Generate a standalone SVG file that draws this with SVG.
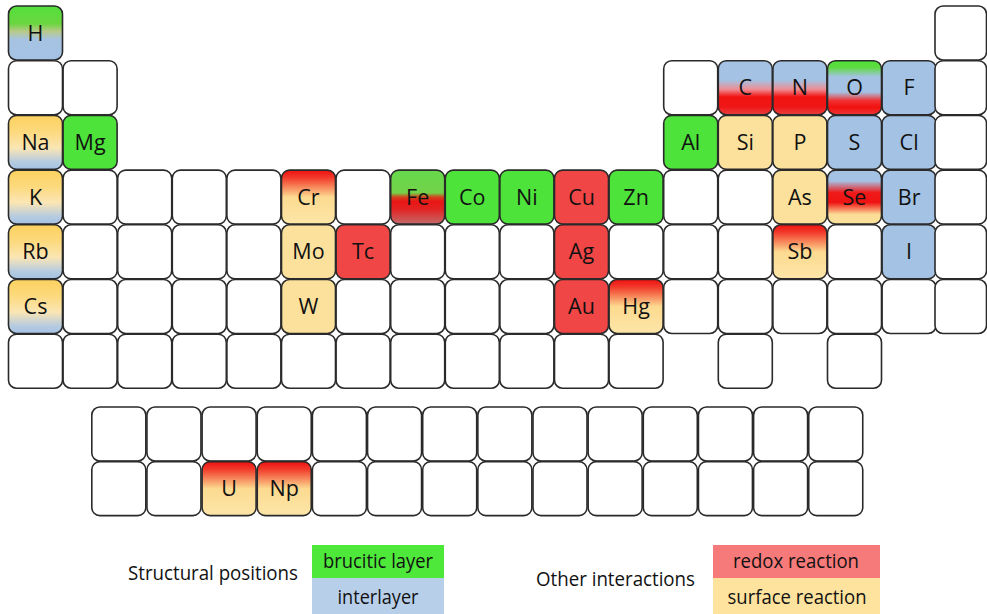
<svg xmlns="http://www.w3.org/2000/svg" width="987" height="614" viewBox="0 0 987 614">
<style>
.c{stroke:#2a2a2a;stroke-width:1.6;fill:#fff}
.t{font-family:"Open Sans","Liberation Sans",sans-serif;font-size:21.5px;fill:#111;text-anchor:middle}
.l{font-family:"Open Sans","Liberation Sans",sans-serif;font-size:19.5px;fill:#111}
.g{fill:#4ee33b}.b{fill:#a4c2e4}.r{fill:#f04646}.y{fill:#fbe19c}
</style>
<defs>
<linearGradient id="gH" x1="0" y1="0" x2="0" y2="1"><stop offset="0" stop-color="#52e03c"/><stop offset="0.33" stop-color="#6cd640"/><stop offset="0.47" stop-color="#b8c98a"/><stop offset="0.62" stop-color="#a6c3e2"/><stop offset="1" stop-color="#a4c2e4"/></linearGradient>
<linearGradient id="gA" x1="0" y1="0" x2="0" y2="1"><stop offset="0" stop-color="#fcd15f"/><stop offset="0.3" stop-color="#fcd97c"/><stop offset="0.6" stop-color="#fbe6b4"/><stop offset="0.86" stop-color="#b6cbe0"/><stop offset="1" stop-color="#a4c2e4"/></linearGradient>
<linearGradient id="gCN" x1="0" y1="0" x2="0" y2="1"><stop offset="0" stop-color="#a4c2e4"/><stop offset="0.36" stop-color="#a4c2e4"/><stop offset="0.53" stop-color="#ee8e94"/><stop offset="0.67" stop-color="#f21212"/><stop offset="0.85" stop-color="#f01616"/><stop offset="1" stop-color="#e84040"/></linearGradient>
<linearGradient id="gO" x1="0" y1="0" x2="0" y2="1"><stop offset="0" stop-color="#4ee33b"/><stop offset="0.12" stop-color="#5ddb3f"/><stop offset="0.3" stop-color="#a4c2e4"/><stop offset="0.58" stop-color="#a4c2e4"/><stop offset="0.74" stop-color="#f23030"/><stop offset="0.86" stop-color="#f21010"/><stop offset="1" stop-color="#ec3636"/></linearGradient>
<linearGradient id="gSe" x1="0" y1="0" x2="0" y2="1"><stop offset="0" stop-color="#a4c2e4"/><stop offset="0.2" stop-color="#a4c2e4"/><stop offset="0.42" stop-color="#f01818"/><stop offset="0.6" stop-color="#f01414"/><stop offset="0.82" stop-color="#fbdc96"/><stop offset="1" stop-color="#fbe19c"/></linearGradient>
<linearGradient id="gFe" x1="0" y1="0" x2="0" y2="1"><stop offset="0" stop-color="#66d94c"/><stop offset="0.42" stop-color="#72d24a"/><stop offset="0.5" stop-color="#d2441c"/><stop offset="0.58" stop-color="#e81616"/><stop offset="0.72" stop-color="#e42222"/><stop offset="1" stop-color="#c46a6a"/></linearGradient>
<linearGradient id="gRY" x1="0" y1="0" x2="0" y2="1"><stop offset="0" stop-color="#ee1111"/><stop offset="0.14" stop-color="#f23a2a"/><stop offset="0.5" stop-color="#fcda90"/><stop offset="1" stop-color="#fde6a8"/></linearGradient>
</defs>

<g id="row1">
<g id="H"><rect class="c" x="8.5" y="6" width="54" height="54" rx="8" style="fill:url(#gH)"/><text class="t" x="35.5" y="40.5">H</text></g>
<g id="r1c18"><rect class="c" x="935" y="6" width="51.5" height="54" rx="8"/></g>
</g>

<g id="row2">
<g id="r2c1"><rect class="c" x="8.5" y="60.7" width="54" height="54" rx="8"/></g>
<g id="r2c2"><rect class="c" x="63.1" y="60.7" width="54" height="54" rx="8"/></g>
<g id="r2c13"><rect class="c" x="663.7" y="60.7" width="54" height="54" rx="8"/></g>
<g id="C"><rect class="c" x="718.3" y="60.7" width="54" height="54" rx="8" style="fill:url(#gCN)"/><text class="t" x="745.3" y="95.2">C</text></g>
<g id="N"><rect class="c" x="772.9" y="60.7" width="54" height="54" rx="8" style="fill:url(#gCN)"/><text class="t" x="799.9" y="95.2">N</text></g>
<g id="O"><rect class="c" x="827.5" y="60.7" width="54" height="54" rx="8" style="fill:url(#gO)"/><text class="t" x="854.5" y="95.2">O</text></g>
<g id="F"><rect class="c b" x="882.1" y="60.7" width="54" height="54" rx="8"/><text class="t" x="909.1" y="95.2">F</text></g>
<g id="r2c18"><rect class="c" x="935" y="60.7" width="51.5" height="54" rx="8"/></g>
</g>

<g id="row3">
<g id="Na"><rect class="c" x="8.5" y="115.4" width="54" height="54" rx="8" style="fill:url(#gA)"/><text class="t" x="35.5" y="149.9">Na</text></g>
<g id="Mg"><rect class="c g" x="63.1" y="115.4" width="54" height="54" rx="8"/><text class="t" x="90.1" y="149.9">Mg</text></g>
<g id="Al"><rect class="c g" x="663.7" y="115.4" width="54" height="54" rx="8"/><text class="t" x="690.7" y="149.9">Al</text></g>
<g id="Si"><rect class="c y" x="718.3" y="115.4" width="54" height="54" rx="8"/><text class="t" x="745.3" y="149.9">Si</text></g>
<g id="P"><rect class="c y" x="772.9" y="115.4" width="54" height="54" rx="8"/><text class="t" x="799.9" y="149.9">P</text></g>
<g id="S"><rect class="c b" x="827.5" y="115.4" width="54" height="54" rx="8"/><text class="t" x="854.5" y="149.9">S</text></g>
<g id="Cl"><rect class="c b" x="882.1" y="115.4" width="54" height="54" rx="8"/><text class="t" x="909.1" y="149.9">Cl</text></g>
<g id="r3c18"><rect class="c" x="935" y="115.4" width="51.5" height="54" rx="8"/></g>
</g>

<g id="row4">
<g id="K"><rect class="c" x="8.5" y="170.1" width="54" height="54" rx="8" style="fill:url(#gA)"/><text class="t" x="35.5" y="204.6">K</text></g>
<g id="r4c2"><rect class="c" x="63.1" y="170.1" width="54" height="54" rx="8"/></g>
<g id="r4c3"><rect class="c" x="117.7" y="170.1" width="54" height="54" rx="8"/></g>
<g id="r4c4"><rect class="c" x="172.3" y="170.1" width="54" height="54" rx="8"/></g>
<g id="r4c5"><rect class="c" x="226.9" y="170.1" width="54" height="54" rx="8"/></g>
<g id="Cr"><rect class="c" x="281.5" y="170.1" width="54" height="54" rx="8" style="fill:url(#gRY)"/><text class="t" x="308.5" y="204.6">Cr</text></g>
<g id="r4c7"><rect class="c" x="336.1" y="170.1" width="54" height="54" rx="8"/></g>
<g id="Fe"><rect class="c" x="390.7" y="170.1" width="54" height="54" rx="8" style="fill:url(#gFe)"/><text class="t" x="417.7" y="204.6">Fe</text></g>
<g id="Co"><rect class="c g" x="445.3" y="170.1" width="54" height="54" rx="8"/><text class="t" x="472.3" y="204.6">Co</text></g>
<g id="Ni"><rect class="c g" x="499.9" y="170.1" width="54" height="54" rx="8"/><text class="t" x="526.9" y="204.6">Ni</text></g>
<g id="Cu"><rect class="c r" x="554.5" y="170.1" width="54" height="54" rx="8"/><text class="t" x="581.5" y="204.6">Cu</text></g>
<g id="Zn"><rect class="c g" x="609.1" y="170.1" width="54" height="54" rx="8"/><text class="t" x="636.1" y="204.6">Zn</text></g>
<g id="r4c13"><rect class="c" x="663.7" y="170.1" width="54" height="54" rx="8"/></g>
<g id="r4c14"><rect class="c" x="718.3" y="170.1" width="54" height="54" rx="8"/></g>
<g id="As"><rect class="c y" x="772.9" y="170.1" width="54" height="54" rx="8"/><text class="t" x="799.9" y="204.6">As</text></g>
<g id="Se"><rect class="c" x="827.5" y="170.1" width="54" height="54" rx="8" style="fill:url(#gSe)"/><text class="t" x="854.5" y="204.6">Se</text></g>
<g id="Br"><rect class="c b" x="882.1" y="170.1" width="54" height="54" rx="8"/><text class="t" x="909.1" y="204.6">Br</text></g>
<g id="r4c18"><rect class="c" x="935" y="170.1" width="51.5" height="54" rx="8"/></g>
</g>

<g id="row5">
<g id="Rb"><rect class="c" x="8.5" y="224.8" width="54" height="54" rx="8" style="fill:url(#gA)"/><text class="t" x="35.5" y="259.3">Rb</text></g>
<g id="r5c2"><rect class="c" x="63.1" y="224.8" width="54" height="54" rx="8"/></g>
<g id="r5c3"><rect class="c" x="117.7" y="224.8" width="54" height="54" rx="8"/></g>
<g id="r5c4"><rect class="c" x="172.3" y="224.8" width="54" height="54" rx="8"/></g>
<g id="r5c5"><rect class="c" x="226.9" y="224.8" width="54" height="54" rx="8"/></g>
<g id="Mo"><rect class="c y" x="281.5" y="224.8" width="54" height="54" rx="8"/><text class="t" x="308.5" y="259.3">Mo</text></g>
<g id="Tc"><rect class="c r" x="336.1" y="224.8" width="54" height="54" rx="8"/><text class="t" x="363.1" y="259.3">Tc</text></g>
<g id="r5c8"><rect class="c" x="390.7" y="224.8" width="54" height="54" rx="8"/></g>
<g id="r5c9"><rect class="c" x="445.3" y="224.8" width="54" height="54" rx="8"/></g>
<g id="r5c10"><rect class="c" x="499.9" y="224.8" width="54" height="54" rx="8"/></g>
<g id="Ag"><rect class="c r" x="554.5" y="224.8" width="54" height="54" rx="8"/><text class="t" x="581.5" y="259.3">Ag</text></g>
<g id="r5c12"><rect class="c" x="609.1" y="224.8" width="54" height="54" rx="8"/></g>
<g id="r5c13"><rect class="c" x="663.7" y="224.8" width="54" height="54" rx="8"/></g>
<g id="r5c14"><rect class="c" x="718.3" y="224.8" width="54" height="54" rx="8"/></g>
<g id="Sb"><rect class="c" x="772.9" y="224.8" width="54" height="54" rx="8" style="fill:url(#gRY)"/><text class="t" x="799.9" y="259.3">Sb</text></g>
<g id="r5c16"><rect class="c" x="827.5" y="224.8" width="54" height="54" rx="8"/></g>
<g id="I"><rect class="c b" x="882.1" y="224.8" width="54" height="54" rx="8"/><text class="t" x="909.1" y="259.3">I</text></g>
<g id="r5c18"><rect class="c" x="935" y="224.8" width="51.5" height="54" rx="8"/></g>
</g>

<g id="row6">
<g id="Cs"><rect class="c" x="8.5" y="279.5" width="54" height="54" rx="8" style="fill:url(#gA)"/><text class="t" x="35.5" y="314">Cs</text></g>
<g id="r6c2"><rect class="c" x="63.1" y="279.5" width="54" height="54" rx="8"/></g>
<g id="r6c3"><rect class="c" x="117.7" y="279.5" width="54" height="54" rx="8"/></g>
<g id="r6c4"><rect class="c" x="172.3" y="279.5" width="54" height="54" rx="8"/></g>
<g id="r6c5"><rect class="c" x="226.9" y="279.5" width="54" height="54" rx="8"/></g>
<g id="W"><rect class="c y" x="281.5" y="279.5" width="54" height="54" rx="8"/><text class="t" x="308.5" y="314">W</text></g>
<g id="r6c7"><rect class="c" x="336.1" y="279.5" width="54" height="54" rx="8"/></g>
<g id="r6c8"><rect class="c" x="390.7" y="279.5" width="54" height="54" rx="8"/></g>
<g id="r6c9"><rect class="c" x="445.3" y="279.5" width="54" height="54" rx="8"/></g>
<g id="r6c10"><rect class="c" x="499.9" y="279.5" width="54" height="54" rx="8"/></g>
<g id="Au"><rect class="c r" x="554.5" y="279.5" width="54" height="54" rx="8"/><text class="t" x="581.5" y="314">Au</text></g>
<g id="Hg"><rect class="c" x="609.1" y="279.5" width="54" height="54" rx="8" style="fill:url(#gRY)"/><text class="t" x="636.1" y="314">Hg</text></g>
<g id="r6c13"><rect class="c" x="663.7" y="279.5" width="54" height="54" rx="8"/></g>
<g id="r6c14"><rect class="c" x="718.3" y="279.5" width="54" height="54" rx="8"/></g>
<g id="r6c15"><rect class="c" x="772.9" y="279.5" width="54" height="54" rx="8"/></g>
<g id="r6c16"><rect class="c" x="827.5" y="279.5" width="54" height="54" rx="8"/></g>
<g id="r6c17"><rect class="c" x="882.1" y="279.5" width="54" height="54" rx="8"/></g>
<g id="r6c18"><rect class="c" x="935" y="279.5" width="51.5" height="54" rx="8"/></g>
</g>

<g id="row7">
<g id="r7c1"><rect class="c" x="8.5" y="334.2" width="54" height="54" rx="8"/></g>
<g id="r7c2"><rect class="c" x="63.1" y="334.2" width="54" height="54" rx="8"/></g>
<g id="r7c3"><rect class="c" x="117.7" y="334.2" width="54" height="54" rx="8"/></g>
<g id="r7c4"><rect class="c" x="172.3" y="334.2" width="54" height="54" rx="8"/></g>
<g id="r7c5"><rect class="c" x="226.9" y="334.2" width="54" height="54" rx="8"/></g>
<g id="r7c6"><rect class="c" x="281.5" y="334.2" width="54" height="54" rx="8"/></g>
<g id="r7c7"><rect class="c" x="336.1" y="334.2" width="54" height="54" rx="8"/></g>
<g id="r7c8"><rect class="c" x="390.7" y="334.2" width="54" height="54" rx="8"/></g>
<g id="r7c9"><rect class="c" x="445.3" y="334.2" width="54" height="54" rx="8"/></g>
<g id="r7c10"><rect class="c" x="499.9" y="334.2" width="54" height="54" rx="8"/></g>
<g id="r7c11"><rect class="c" x="554.5" y="334.2" width="54" height="54" rx="8"/></g>
<g id="r7c12"><rect class="c" x="609.1" y="334.2" width="54" height="54" rx="8"/></g>
<g id="r7c14"><rect class="c" x="718.3" y="334.2" width="54" height="54" rx="8"/></g>
<g id="r7c16"><rect class="c" x="827.5" y="334.2" width="54" height="54" rx="8"/></g>
</g>

<g id="fblock1">
<rect class="c" x="91.8" y="407" width="54" height="54" rx="8"/>
<rect class="c" x="146.95" y="407" width="54" height="54" rx="8"/>
<rect class="c" x="202.1" y="407" width="54" height="54" rx="8"/>
<rect class="c" x="257.25" y="407" width="54" height="54" rx="8"/>
<rect class="c" x="312.4" y="407" width="54" height="54" rx="8"/>
<rect class="c" x="367.55" y="407" width="54" height="54" rx="8"/>
<rect class="c" x="422.7" y="407" width="54" height="54" rx="8"/>
<rect class="c" x="477.85" y="407" width="54" height="54" rx="8"/>
<rect class="c" x="533" y="407" width="54" height="54" rx="8"/>
<rect class="c" x="588.15" y="407" width="54" height="54" rx="8"/>
<rect class="c" x="643.3" y="407" width="54" height="54" rx="8"/>
<rect class="c" x="698.45" y="407" width="54" height="54" rx="8"/>
<rect class="c" x="753.6" y="407" width="54" height="54" rx="8"/>
<rect class="c" x="808.75" y="407" width="54" height="54" rx="8"/>
</g>
<g id="fblock2">
<rect class="c" x="91.8" y="461.6" width="54" height="54" rx="8"/>
<rect class="c" x="146.95" y="461.6" width="54" height="54" rx="8"/>
<g id="U"><rect class="c" x="202.1" y="461.6" width="54" height="54" rx="8" style="fill:url(#gRY)"/><text class="t" x="229.1" y="496.1">U</text></g>
<g id="Np"><rect class="c" x="257.25" y="461.6" width="54" height="54" rx="8" style="fill:url(#gRY)"/><text class="t" x="284.25" y="496.1">Np</text></g>
<rect class="c" x="312.4" y="461.6" width="54" height="54" rx="8"/>
<rect class="c" x="367.55" y="461.6" width="54" height="54" rx="8"/>
<rect class="c" x="422.7" y="461.6" width="54" height="54" rx="8"/>
<rect class="c" x="477.85" y="461.6" width="54" height="54" rx="8"/>
<rect class="c" x="533" y="461.6" width="54" height="54" rx="8"/>
<rect class="c" x="588.15" y="461.6" width="54" height="54" rx="8"/>
<rect class="c" x="643.3" y="461.6" width="54" height="54" rx="8"/>
<rect class="c" x="698.45" y="461.6" width="54" height="54" rx="8"/>
<rect class="c" x="753.6" y="461.6" width="54" height="54" rx="8"/>
<rect class="c" x="808.75" y="461.6" width="54" height="54" rx="8"/>
</g>

<g id="legend-structural">
<text class="l" x="128" y="580" textLength="170" lengthAdjust="spacingAndGlyphs">Structural positions</text>
<rect x="312" y="545" width="132" height="33" fill="#4ee83b"/>
<rect x="312" y="578" width="132" height="36" fill="#b8cfea"/>
<text class="l" x="378" y="568" text-anchor="middle" textLength="110" lengthAdjust="spacingAndGlyphs">brucitic layer</text>
<text class="l" x="378" y="604" text-anchor="middle" textLength="81" lengthAdjust="spacingAndGlyphs">interlayer</text>
</g>
<g id="legend-other">
<text class="l" x="536" y="586" textLength="159" lengthAdjust="spacingAndGlyphs">Other interactions</text>
<rect x="713" y="545" width="167" height="33" fill="#f77a7a"/>
<rect x="713" y="578" width="167" height="36" fill="#fde39e"/>
<text class="l" x="796" y="568" text-anchor="middle" textLength="126" lengthAdjust="spacingAndGlyphs">redox reaction</text>
<text class="l" x="797" y="604" text-anchor="middle" textLength="139" lengthAdjust="spacingAndGlyphs">surface reaction</text>
</g>
</svg>
